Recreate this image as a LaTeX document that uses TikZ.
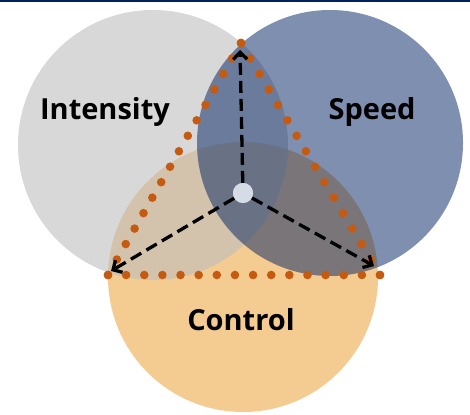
\documentclass[tikz,border=0pt]{standalone}
\usepackage{fontspec}
\setmainfont{Open Sans}
\usetikzlibrary{arrows.meta,calc}

\definecolor{navy}{HTML}{002060}
\definecolor{ctrlorange}{HTML}{F4CC91}
\definecolor{intgray}{HTML}{BEBEBE}
\definecolor{dotorange}{HTML}{C55A11}
\definecolor{hubfill}{HTML}{D6DCE5}

\tikzset{
  disc/.style={circle, inner sep=0pt, minimum size=#1, draw=none},
  label/.style={font=\fontsize{29}{34}\selectfont\bfseries, text=black},
  spoke/.style={line width=3.3pt, dash pattern=on 12pt off 6pt,
    -{Straight Barb[length=7pt,width=14pt,line width=3.3pt]}},
  dot/.style={fill=dotorange},
}

\begin{document}
\begin{tikzpicture}[x=1pt,y=-1pt]
  \useasboundingbox (0,0) rectangle (470,414);

  % rule along the top edge
  \draw[navy, line width=2pt] (0,1) -- (470,1);

  % the three overlapping discs
  \node[disc=270pt, fill=ctrlorange] (control) at (243,277) {};
  \node[disc=270pt, fill=intgray, fill opacity=0.6] (intensity) at (153,145) {};
  \node[disc=266pt, fill=navy, fill opacity=0.5] (speed) at (330,143) {};

  % triangle corners
  \coordinate (vT) at (241,43);
  \coordinate (vL) at (108,275);
  \coordinate (vR) at (380,275);

  % dotted triangle
  \foreach \i in {0,...,15} {
    \fill[dot] ($(vT)!\i/15!(vL)$) circle (4.3pt);
    \fill[dot] ($(vT)!\i/15!(vR)$) circle (4.3pt);
    \fill[dot] ($(vL)!\i/15!(vR)$) circle (4.3pt);
  }

  % arrow ends
  \coordinate (tipT) at (240,50);
  \coordinate (tipL) at (111,271);
  \coordinate (tipR) at (374,266);

  % hub and dashed spokes
  \node[circle, inner sep=0pt, minimum size=20pt, fill=hubfill] (hub) at (243,193) {};
  \draw[spoke] (hub) -- (tipT);
  \draw[spoke] (hub) -- (tipL);
  \draw[spoke] (hub) -- (tipR);
  \node[circle, inner sep=0pt, minimum size=20pt, fill=hubfill] at (hub) {};

  % labels
  \node[label] (lint) at (105,112) {Intensity};
  \node[label] (lspd) at (372,112) {Speed};
  \node[label] (lctl) at (241,320) {Control};
\end{tikzpicture}
\end{document}
